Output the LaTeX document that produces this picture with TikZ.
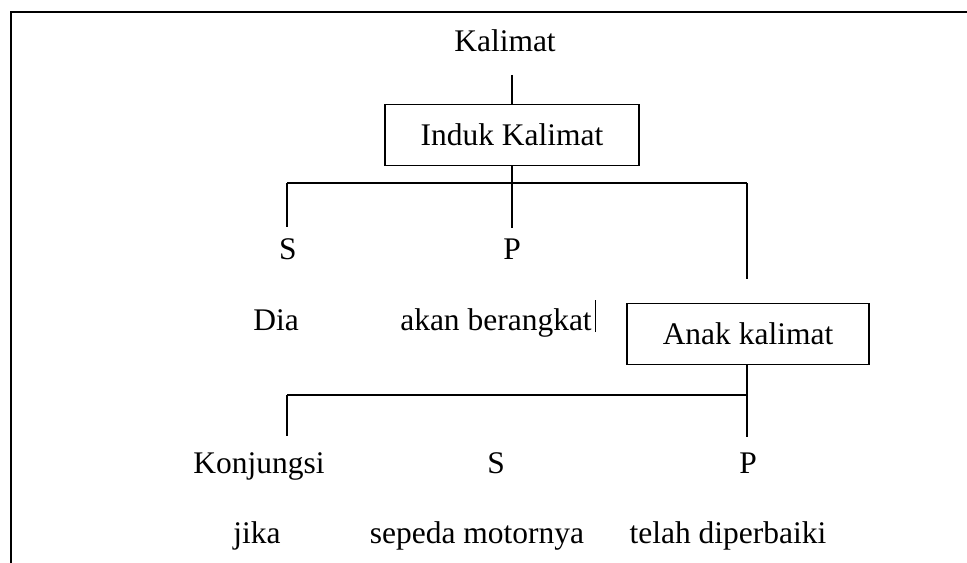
\documentclass[tikz,border=0pt]{standalone}
\usepackage{fontspec}
\setmainfont{Liberation Serif}
\begin{document}
\begin{tikzpicture}[x=1bp,y=-1bp,line width=1.7bp,
	word/.style={anchor=base,inner sep=0pt,font=\fontsize{31.6}{38}\selectfont},
	kotak/.style={draw,inner sep=0pt,minimum height=61bp,font=\fontsize{31.6}{38}\selectfont}]
			\useasboundingbox (0,0) rectangle (967,563);
			\draw[line width=2bp] (10,12) -- (967,12);
			\draw[line width=2bp] (11,12) -- (11,563);
			
			\node[word] (kal) at (505,52) {Kalimat};
			\coordinate (kalb) at (512,75);
			\node[kotak,minimum width=254bp] (induk) at (512,135) {Induk Kalimat};
			
			\coordinate (b1w) at (287,183);
			\coordinate (b1e) at (747,183);
			\node[word] (s1) at (288,260) {S};
			\node[word] (p1) at (512,260) {P};
			\node[word] (dia) at (276,330) {Dia};
			\node[word] (akan) at (496,330) {akan berangkat};
			\node[kotak,minimum width=242bp] (anak) at (748,334) {Anak kalimat};
			
			\coordinate (b2w) at (287,395);
			\coordinate (b2e) at (747,395);
			\node[word] (kon) at (259,473) {Konjungsi};
			\node[word] (s2) at (496,473) {S};
			\node[word] (p2) at (748,473) {P};
			\node[word] (jika) at (257,543) {jika};
			\node[word] (sepeda) at (477,543) {sepeda motornya};
			\node[word] (telah) at (728,543) {telah diperbaiki};
			
			\draw (kalb) -- (induk.north);
			\draw (b1w) -- (b1e);
			\draw[shorten >=11bp] (b1w) -- (b1w |- s1.north);
			\draw[shorten >=11bp] (induk.south) -- (p1.north);
			\draw[shorten >=24bp] (b1e) -- (b1e |- anak.north);
			\draw[line width=0.5bp] ([xshift=3bp,yshift=-2bp]akan.base east) -- ++(0,-32);
			
			\draw (b2w) -- (b2e);
			\draw[shorten >=15bp] (b2w) -- (b2w |- kon.north);
			\draw[shorten >=15bp] (anak.south -| b2e) -- (b2e |- p2.north);
		\end{tikzpicture}
\end{document}
